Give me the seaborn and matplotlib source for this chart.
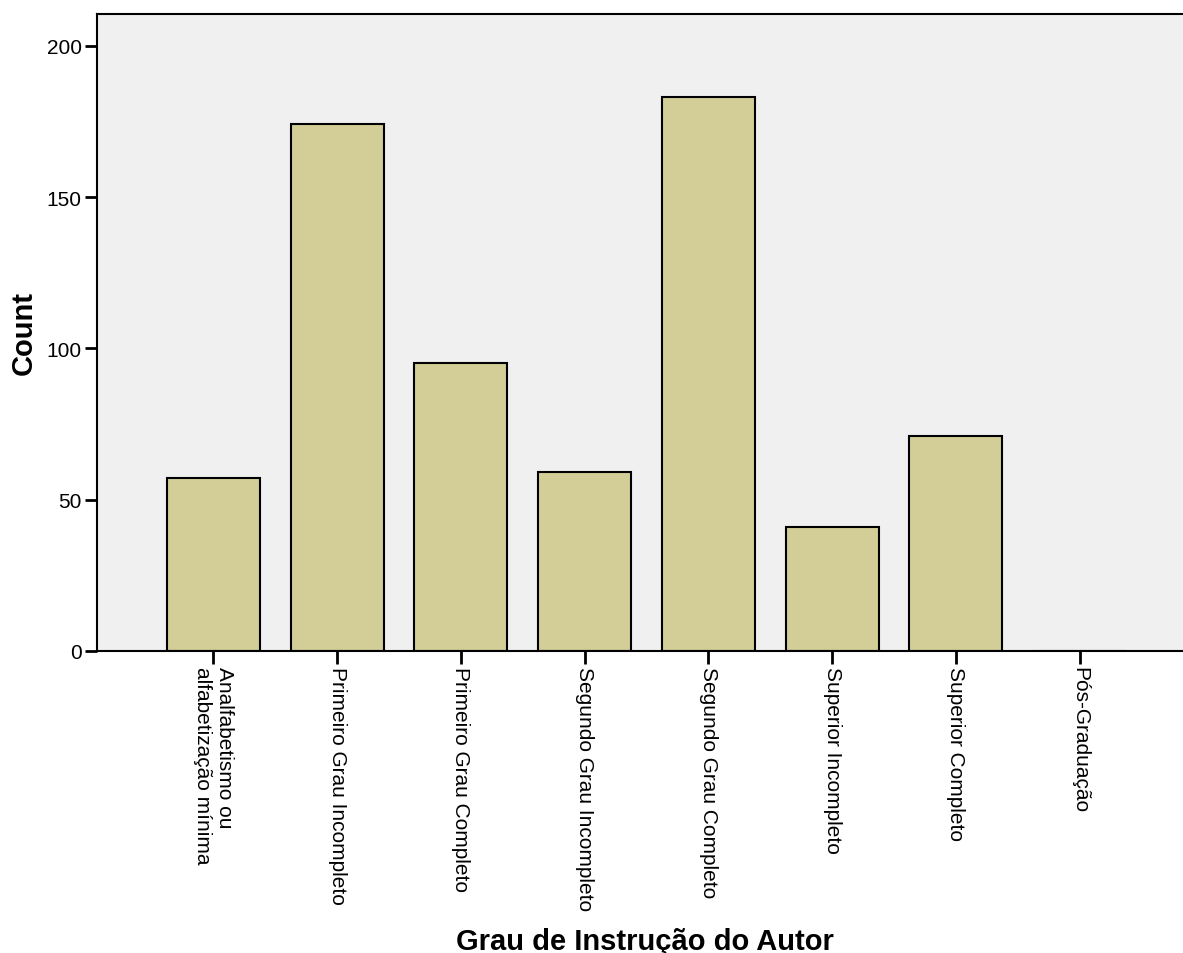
import matplotlib
matplotlib.use("Agg")
import matplotlib.pyplot as plt
import seaborn as sns
import pandas as pd

categories = [
    "Analfabetismo ou\nalfabetização mínima",
    "Primeiro Grau Incompleto",
    "Primeiro Grau Completo",
    "Segundo Grau Incompleto",
    "Segundo Grau Completo",
    "Superior Incompleto",
    "Superior Completo",
    "Pós-Graduação",
]
counts = [57, 174, 95, 59, 183, 41, 71, 0]
y_ticks = [0, 50, 100, 150, 200]

sns.set_style("white")
plt.rcParams['font.family'] = ['Liberation Sans', 'DejaVu Sans']
plt.rcParams['text.color'] = 'black'
plt.rcParams['axes.labelcolor'] = 'black'
plt.rcParams['xtick.color'] = 'black'
plt.rcParams['ytick.color'] = 'black'

df = pd.DataFrame({"grau": categories, "count": counts})

fig = plt.figure(figsize=(11.83, 9.54), dpi=100)
ax = fig.add_axes([0.082, 0.3166, 0.93, 0.9843 - 0.3166])
ax.set_facecolor("#f0f0f0")

sns.barplot(data=df, x="grau", y="count", color="#d3ce97", saturation=1,
            edgecolor="black", linewidth=1.5, width=0.75, ax=ax)

ax.set_xlim(-0.94, 7.95)
ax.set_ylim(0, 210.5)
ax.set_yticks(y_ticks)
ax.set_yticklabels([str(v) for v in y_ticks])

for s in ["left", "top", "bottom"]:
    ax.spines[s].set_visible(True)
    ax.spines[s].set_color("black")
    ax.spines[s].set_linewidth(1.5)
ax.spines["right"].set_visible(False)

ax.tick_params(axis="both", direction="out", length=9, width=2, color="black",
               labelsize=15, pad=2, left=True, bottom=True)
for lbl in ax.get_xticklabels():
    lbl.set_rotation(270)
    lbl.set_ha("center")
    lbl.set_va("top")
    lbl.set_multialignment("left")

ax.set_xlabel("Grau de Instrução do Autor", fontsize=21, fontweight="bold", va="center")
ax.xaxis.set_label_coords(0.498, -0.455)
ax.set_ylabel("Count", fontsize=21, fontweight="bold", va="center")
ax.yaxis.set_label_coords(-0.067, 0.5)

fig.savefig("out.png", dpi=100)
